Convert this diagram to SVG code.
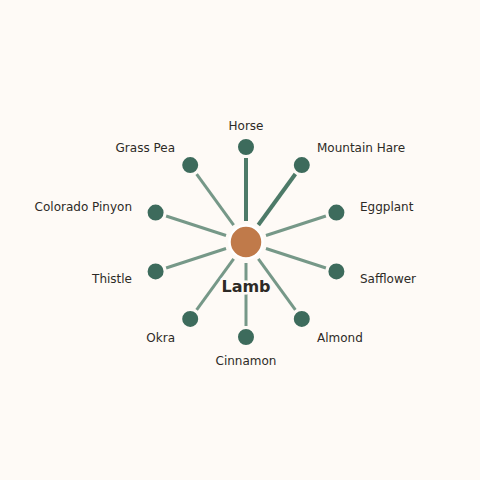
<svg xmlns="http://www.w3.org/2000/svg" width="480" height="480" viewBox="0 0 480 480">
<style>
.bg{fill:#fefaf6}
.e{stroke:#769888;stroke-width:3;stroke-linecap:butt}
.e.s{stroke:#4d7a68;stroke-width:4}
.n{fill:#3d6b5c;stroke:#fefaf6;stroke-width:2}
.c{fill:#c07a4a;stroke:#ffffff;stroke-width:2.5}
.t{font-family:"DejaVu Sans",sans-serif;font-size:12px;fill:#2d2a26}
.h{font-family:"DejaVu Sans",sans-serif;font-size:16px;font-weight:bold;fill:#2d2a26;stroke:#fefaf6;stroke-width:5;paint-order:stroke;stroke-linejoin:round}
</style>
<rect class="bg" x="0" y="0" width="480" height="480"/>
<g id="connectors">
<line class="e s" x1="246" y1="221" x2="246" y2="158"/>
<line class="e s" x1="258.34" y1="225.01" x2="295.38" y2="174.04"/>
<line class="e" x1="265.97" y1="235.51" x2="325.89" y2="216.04"/>
<line class="e" x1="265.97" y1="248.49" x2="325.89" y2="267.96"/>
<line class="e" x1="258.34" y1="258.99" x2="295.38" y2="309.96"/>
<line class="e" x1="246" y1="263" x2="246" y2="326"/>
<line class="e" x1="233.66" y1="258.99" x2="196.62" y2="309.96"/>
<line class="e" x1="226.03" y1="248.49" x2="166.11" y2="267.96"/>
<line class="e" x1="226.03" y1="235.51" x2="166.11" y2="216.04"/>
<line class="e" x1="233.66" y1="225.01" x2="196.62" y2="174.04"/>
</g>
<g id="node-horse"><circle class="n" cx="246" cy="147" r="9"/><text class="t" x="246" y="129.5" text-anchor="middle">Horse</text></g>
<g id="node-mountain-hare"><circle class="n" cx="301.8" cy="165.1" r="9"/><text class="t" x="317" y="151.5">Mountain Hare</text></g>
<g id="node-eggplant"><circle class="n" cx="336.4" cy="212.6" r="9"/><text class="t" x="360" y="210.5">Eggplant</text></g>
<g id="node-safflower"><circle class="n" cx="336.4" cy="271.4" r="9"/><text class="t" x="360" y="282.5">Safflower</text></g>
<g id="node-almond"><circle class="n" cx="301.8" cy="318.9" r="9"/><text class="t" x="317" y="341.5">Almond</text></g>
<g id="node-cinnamon"><circle class="n" cx="246" cy="337" r="9"/><text class="t" x="246" y="364.5" text-anchor="middle">Cinnamon</text></g>
<g id="node-okra"><circle class="n" cx="190.2" cy="318.9" r="9"/><text class="t" x="175" y="341.5" text-anchor="end">Okra</text></g>
<g id="node-thistle"><circle class="n" cx="155.6" cy="271.4" r="9"/><text class="t" x="132" y="282.5" text-anchor="end">Thistle</text></g>
<g id="node-colorado-pinyon"><circle class="n" cx="155.6" cy="212.6" r="9"/><text class="t" x="132" y="210.5" text-anchor="end">Colorado Pinyon</text></g>
<g id="node-grass-pea"><circle class="n" cx="190.2" cy="165.1" r="9"/><text class="t" x="175" y="151.5" text-anchor="end">Grass Pea</text></g>
<g id="node-lamb"><circle class="c" cx="246" cy="242" r="16.5"/><text class="h" x="246" y="291.5" text-anchor="middle">Lamb</text></g>
</svg>
